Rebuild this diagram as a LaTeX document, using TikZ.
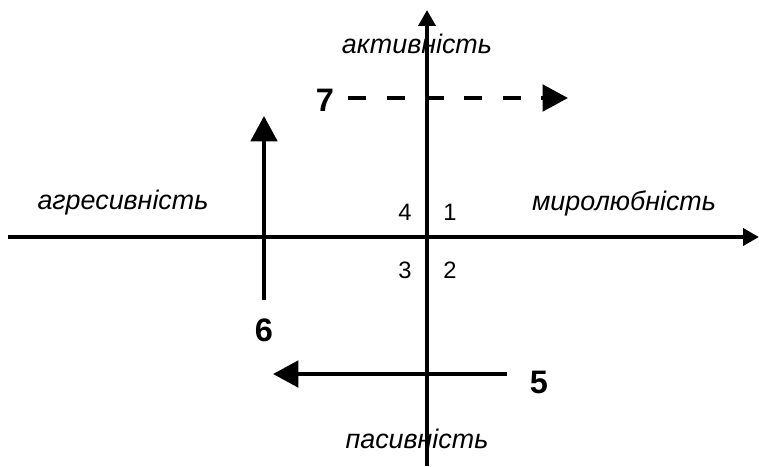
\documentclass[tikz,border=0pt]{standalone}
\usepackage{fontspec}
\setmainfont{Liberation Sans}
\usetikzlibrary{arrows.meta}
\tikzset{
  axis/.style={line width=2.3pt, -{Triangle[length=9pt,width=9.5pt]}},
  move/.style={line width=2.4pt, -{Triangle[length=14.5pt,width=15pt]}},
  pole/.style={inner sep=0pt, font=\fontsize{15.3}{17}\selectfont\itshape},
  quad/.style={inner sep=0pt, font=\fontsize{13.5}{15}\selectfont},
  num/.style={inner sep=0pt, font=\fontsize{18.5}{20}\selectfont\bfseries}
}

\begin{document}
\begin{tikzpicture}[x=0.02cm, y=-0.02cm]
  \useasboundingbox (0,0) rectangle (759,466);

  % --- axes ---
  \coordinate (W) at (8,237);
  \coordinate (E) at (759,237);
  \coordinate (S) at (427,466);
  \coordinate (N) at (427,10);
  \draw[axis] (W) -- (E);
  \draw[axis] (S) -- (N);

  % --- poles ---
  \node[pole] (act) at (417,44)  {активність};
  \node[pole] (pas) at (417,439) {пасивність};
  \node[pole] (agr) at (123,203) {агресивність};
  \node[pole] (mir) at (624,203) {миролюбність};

  % --- quadrants ---
  \node[quad] (q4) at (405,212) {4};
  \node[quad] (q1) at (450,212) {1};
  \node[quad] (q3) at (405,270) {3};
  \node[quad] (q2) at (450,270) {2};

  % --- moves ---
  \node[num] (n7) at (325,100) {7};
  \coordinate (a7) at (348,98);
  \coordinate (b7) at (568,98);
  \draw[move, dash pattern=on 10.5pt off 11.5pt] (a7) -- (b7);

  \node[num] (n6) at (264,330) {6};
  \coordinate (a6) at (264,300);
  \coordinate (b6) at (264,116);
  \draw[move] (a6) -- (b6);

  \node[num] (n5) at (539,382) {5};
  \coordinate (a5) at (507,374);
  \coordinate (b5) at (273,374);
  \draw[move] (a5) -- (b5);
\end{tikzpicture}
\end{document}
